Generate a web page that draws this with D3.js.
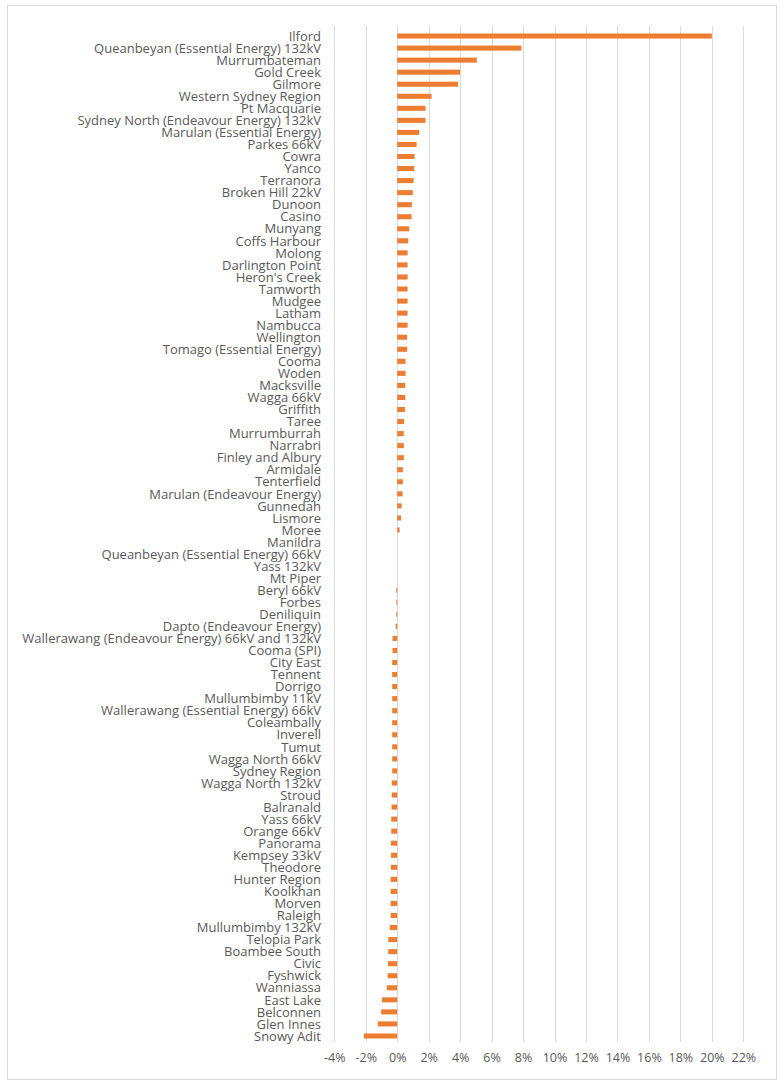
<!DOCTYPE html>
<html><head><meta charset="utf-8">
<script src="https://cdn.jsdelivr.net/npm/d3@7"></script>
<style>
html,body{margin:0;padding:0;background:#fff;}
svg text{font-family:"Open Sans",Lato,sans-serif;}
</style></head>
<body><svg id="c" width="784" height="1082"></svg>
<script>
const categories = ["Ilford","Queanbeyan (Essential Energy) 132kV","Murrumbateman","Gold Creek","Gilmore","Western Sydney Region","Pt Macquarie","Sydney North (Endeavour Energy) 132kV","Marulan (Essential Energy)","Parkes 66kV","Cowra","Yanco","Terranora","Broken Hill 22kV","Dunoon","Casino","Munyang","Coffs Harbour","Molong","Darlington Point","Heron's Creek","Tamworth","Mudgee","Latham","Nambucca","Wellington","Tomago (Essential Energy)","Cooma","Woden","Macksville","Wagga 66kV","Griffith","Taree","Murrumburrah","Narrabri","Finley and Albury","Armidale","Tenterfield","Marulan (Endeavour Energy)","Gunnedah","Lismore","Moree","Manildra","Queanbeyan (Essential Energy) 66kV","Yass 132kV","Mt Piper","Beryl 66kV","Forbes","Deniliquin","Dapto (Endeavour Energy)","Wallerawang (Endeavour Energy) 66kV and 132kV","Cooma (SPI)","City East","Tennent","Dorrigo","Mullumbimby 11kV","Wallerawang (Essential Energy) 66kV","Coleambally","Inverell","Tumut","Wagga North 66kV","Sydney Region","Wagga North 132kV","Stroud","Balranald","Yass 66kV","Orange 66kV","Panorama","Kempsey 33kV","Theodore","Hunter Region","Koolkhan","Morven","Raleigh","Mullumbimby 132kV","Telopia Park","Boambee South","Civic","Fyshwick","Wanniassa","East Lake","Belconnen","Glen Innes","Snowy Adit"];
const values = [20.0,7.9,5.06,4.0,3.87,2.18,1.8,1.8,1.4,1.23,1.1,1.08,1.04,0.99,0.93,0.91,0.76,0.70,0.66,0.66,0.66,0.66,0.66,0.66,0.66,0.63,0.63,0.53,0.53,0.51,0.51,0.49,0.44,0.42,0.42,0.42,0.36,0.36,0.34,0.28,0.25,0.15,0,0,0,0,-0.06,-0.06,-0.06,-0.1,-0.3,-0.3,-0.32,-0.32,-0.32,-0.32,-0.32,-0.32,-0.32,-0.32,-0.32,-0.32,-0.34,-0.34,-0.36,-0.38,-0.38,-0.4,-0.4,-0.4,-0.42,-0.42,-0.42,-0.42,-0.47,-0.57,-0.57,-0.59,-0.61,-0.66,-0.97,-1.02,-1.23,-2.12];
const ticks = [-4,-2,0,2,4,6,8,10,12,14,16,18,20,22];

const svg = d3.select("#c");
svg.append("rect").attr("x",7.5).attr("y",5.5).attr("width",769).attr("height",1074)
  .attr("fill","#fff").attr("stroke","#d9d9d9").attr("stroke-width",1);

const x = d3.scaleLinear().domain([-4,22]).range([334.3,743.3]);
const y = d3.scaleBand().domain(categories).range([30,1042]).paddingInner(0.58).paddingOuter(0.29);

// gridlines
svg.append("g").selectAll("line").data(ticks).join("line")
  .attr("x1",d=>Math.round(x(d))+0.5).attr("x2",d=>Math.round(x(d))+0.5)
  .attr("y1",26).attr("y2",1042).attr("stroke","#d9d9d9").attr("stroke-width",1);

// bars
svg.append("g").selectAll("rect").data(values).join("rect")
  .attr("x",(d)=>x(Math.min(0,d)))
  .attr("width",d=>Math.abs(x(d)-x(0)))
  .attr("y",(d,i)=>y(categories[i]))
  .attr("height",y.bandwidth())
  .attr("fill","#ED7D31");

// category labels
svg.append("g").selectAll("text").data(categories).join("text")
  .attr("x",321).attr("y",d=>y(d)+y.bandwidth()/2)
  .attr("dy","0.36em").attr("text-anchor","end")
  .attr("font-size",13).attr("fill","#595959").text(d=>d);

// x axis labels
const xa = svg.append("g").attr("transform","translate(0,1042)")
  .call(d3.axisBottom(x).tickValues(ticks).tickSize(0).tickPadding(11).tickFormat(d=>d+"%"));
xa.select(".domain").remove();
xa.selectAll("text").attr("font-size",12.5).attr("fill","#595959").attr("font-family","'Open Sans',Lato,sans-serif");
</script></body></html>
